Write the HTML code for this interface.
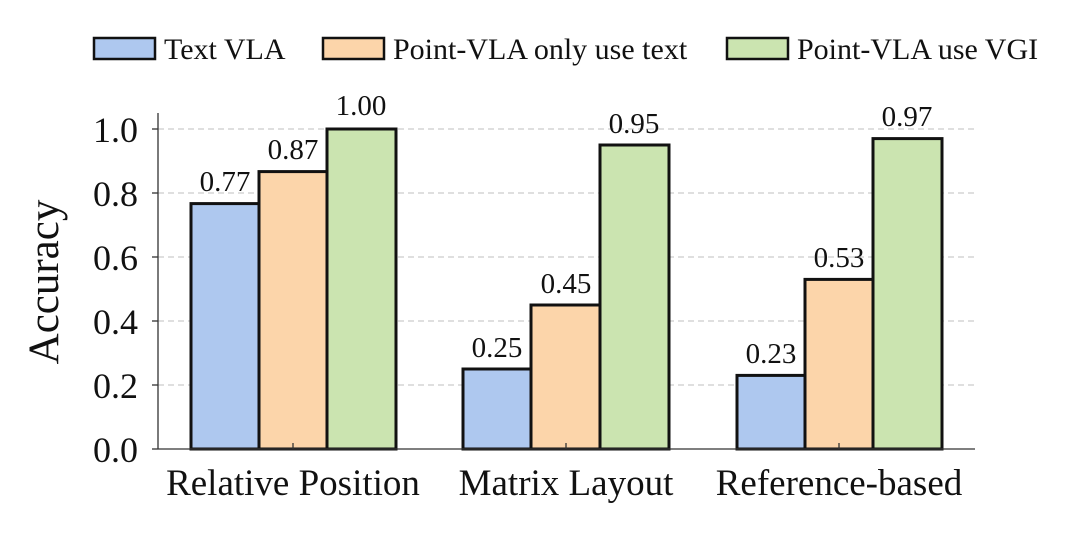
<!DOCTYPE html>
<html><head><style>body{margin:0;background:#fff}</style></head><body>
<svg width="1080" height="531" xmlns="http://www.w3.org/2000/svg" font-family="Liberation Serif, serif">
<g stroke="#ccc" stroke-width="1.2" stroke-dasharray="6,4">
<line x1="158" x2="975" y1="385" y2="385"/><line x1="158" x2="975" y1="321" y2="321"/>
<line x1="158" x2="975" y1="257" y2="257"/><line x1="158" x2="975" y1="193" y2="193"/>
<line x1="158" x2="975" y1="129" y2="129"/></g>
<g stroke="#111" stroke-width="3">
<rect x="191" y="203.6" width="68" height="245.4" fill="#aec8ef"/>
<rect x="259" y="171.6" width="68" height="277.4" fill="#fcd5aa"/>
<rect x="327" y="129" width="69" height="320" fill="#cbe4b0"/>
<rect x="463" y="369" width="68" height="80" fill="#aec8ef"/>
<rect x="531" y="305" width="69" height="144" fill="#fcd5aa"/>
<rect x="600" y="145" width="69" height="304" fill="#cbe4b0"/>
<rect x="737" y="375.4" width="68" height="73.6" fill="#aec8ef"/>
<rect x="805" y="279.4" width="68" height="169.6" fill="#fcd5aa"/>
<rect x="873" y="138.6" width="69" height="310.4" fill="#cbe4b0"/></g>
<g stroke="#333" stroke-width="1.3">
<line x1="158" y1="113" x2="158" y2="449"/><line x1="158" y1="449" x2="975" y2="449"/>
<line x1="152" x2="158" y1="449" y2="449"/><line x1="152" x2="158" y1="385" y2="385"/><line x1="152" x2="158" y1="321" y2="321"/><line x1="152" x2="158" y1="257" y2="257"/><line x1="152" x2="158" y1="193" y2="193"/><line x1="152" x2="158" y1="129" y2="129"/>
<line x1="293" x2="293" y1="449" y2="443"/><line x1="566" x2="566" y1="449" y2="443"/><line x1="839" x2="839" y1="449" y2="443"/></g>
<g font-size="36" text-anchor="end" fill="#111">
<text x="138" y="462">0.0</text><text x="138" y="398">0.2</text><text x="138" y="334">0.4</text><text x="138" y="270">0.6</text><text x="138" y="206">0.8</text><text x="138" y="142">1.0</text></g>
<g font-size="29" text-anchor="middle" fill="#111">
<text x="225" y="191">0.77</text><text x="293" y="159">0.87</text><text x="361" y="115">1.00</text>
<text x="497" y="357">0.25</text><text x="566" y="293">0.45</text><text x="634" y="133">0.95</text>
<text x="771" y="363">0.23</text><text x="839" y="267">0.53</text><text x="907" y="126">0.97</text></g>
<g font-size="37" text-anchor="middle" fill="#111">
<text x="293" y="495">Relative Position</text><text x="566" y="495">Matrix Layout</text><text x="839" y="495">Reference-based</text></g>
<text transform="translate(58,282) rotate(-90)" font-size="43" text-anchor="middle" fill="#111">Accuracy</text>
<g stroke="#111" stroke-width="2.5">
<rect x="94" y="38" width="61" height="21" fill="#aec8ef"/>
<rect x="323" y="38" width="61" height="21" fill="#fcd5aa"/>
<rect x="727" y="38" width="61" height="21" fill="#cbe4b0"/></g>
<g font-size="30" fill="#111">
<text x="164" y="59">Text VLA</text><text x="393" y="59">Point-VLA only use text</text><text x="797" y="59">Point-VLA use VGI</text></g>
</svg>
</body></html>
